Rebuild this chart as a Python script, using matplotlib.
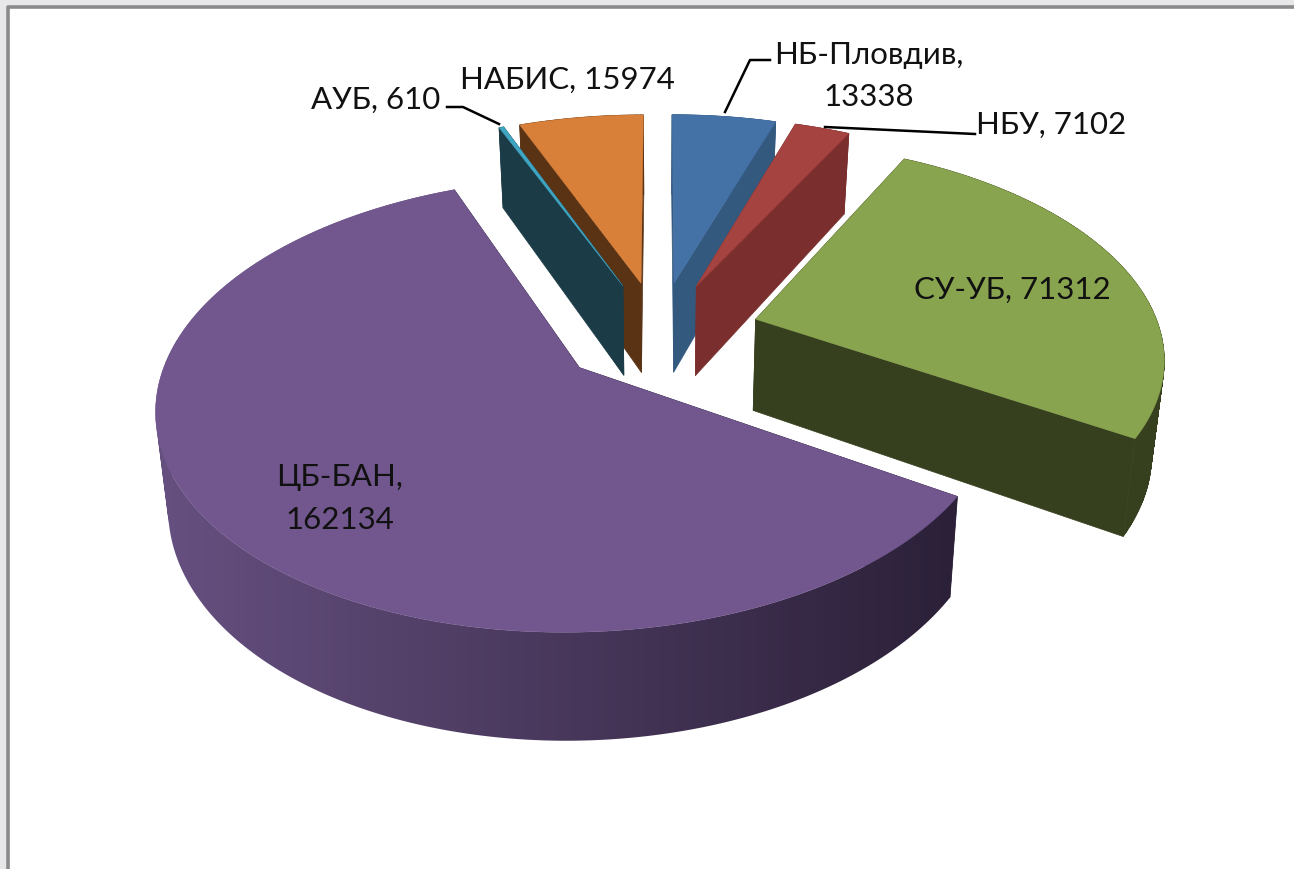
import numpy as np
import matplotlib
matplotlib.use("Agg")
import matplotlib.pyplot as plt
from matplotlib.colors import LinearSegmentedColormap
from matplotlib.path import Path
from matplotlib.patches import PathPatch

plt.rcParams['font.family'] = ['Lato', 'Noto Sans', 'DejaVu Sans']

# Data, clockwise from 12 o'clock
labels = ["НБ-Пловдив", "НБУ", "СУ-УБ", "ЦБ-БАН", "АУБ", "НАБИС"]
values = [13338, 7102, 71312, 162134, 610, 15974]

top_colors = ["#4471a6", "#a54341", "#89a44f", "#71578e", "#3fa5c2", "#d8803a"]
wall_colors = ["#34597f", "#7a2f2e", "#37401e", "#2b2038", "#1b3c47", "#5a3315"]

# Projection of the exploded disc onto the picture, in pixels
CX, CY = 659, 334
RX, RY = 405, 210
PERSP = 0.16
EXPLODE = 0.25
DEPTH = 92
BOTTOM_SHRINK = 0.975


def project(X, Y):
    s = 1 / (1 + PERSP * Y)
    return CX + RX * X * s, CY - RY * Y * s, s


def top_and_bottom(X, Y):
    x, y, s = project(X, Y)
    xb = CX + (x - CX) * BOTTOM_SHRINK
    yb = y + DEPTH * s ** 0.8
    return np.column_stack([x, y]), np.column_stack([xb, yb])


def quad(ax, t0, t1, b0, b1, color):
    pts = np.array([t0, t1, b1, b0])
    ax.fill(pts[:, 0], pts[:, 1], color=color, lw=0.5, zorder=2)


def wall_visible(apex, outer, mid):
    e = outer - apex
    m = mid - apex
    side_in = e[0] * m[1] - e[1] * m[0]
    return e[0] * side_in < 0


def swept_path(arc_t, arc_b):
    # union of the little quads under the arc, all wound the same way
    verts, codes = [], []
    for i in range(len(arc_t) - 1):
        pts = np.array([arc_t[i], arc_t[i + 1], arc_b[i + 1], arc_b[i]])
        x, y = pts[:, 0], pts[:, 1]
        area = np.sum(x * np.roll(y, -1) - np.roll(x, -1) * y)
        if area < 0:
            pts = pts[::-1]
        verts.extend(pts.tolist() + [pts[0].tolist()])
        codes.extend([Path.MOVETO, Path.LINETO, Path.LINETO, Path.LINETO, Path.CLOSEPOLY])
    return Path(verts, codes)


def shaded_wall(ax, path, wall_color):
    # left to right gradient, clipped to the curved wall
    cmap = LinearSegmentedColormap.from_list("wall", ["#665080", wall_color])
    grad = np.linspace(0, 1, 256).reshape(1, -1)
    im = ax.imshow(grad, cmap=cmap, extent=[155, 960, 870, 0], aspect="auto", zorder=2)
    im.set_clip_path(path, transform=ax.transData)
    ax.set_xlim(0, 1294)
    ax.set_ylim(870, 0)


def draw_slice(ax, th0, th1, top_color, wall_color, shaded=False):
    mid = (th0 + th1) / 2
    ax0 = EXPLODE * np.sin(mid)
    ay0 = EXPLODE * np.cos(mid)
    th = np.linspace(th0, th1, max(int(np.degrees(th1 - th0)) * 2, 4))
    X = ax0 + np.sin(th)
    Y = ay0 + np.cos(th)
    arc_t, arc_b = top_and_bottom(X, Y)
    ap_t, ap_b = top_and_bottom(np.array([ax0]), np.array([ay0]))
    ap_t, ap_b = ap_t[0], ap_b[0]
    mid_pt = arc_t[len(arc_t) // 2]

    radial = [(arc_t[0], arc_b[0]), (arc_t[-1], arc_b[-1])]
    visible = []
    for o_t, o_b in radial:
        if wall_visible(ap_t, o_t, mid_pt):
            visible.append((o_t, o_b))
        else:
            quad(ax, ap_t, o_t, ap_b, o_b, wall_color)

    # curved outer wall
    path = swept_path(arc_t, arc_b)
    if shaded:
        shaded_wall(ax, path, wall_color)
    else:
        ax.add_patch(PathPatch(path, facecolor=wall_color, edgecolor=wall_color, lw=0.5, zorder=2))

    for o_t, o_b in visible:
        quad(ax, ap_t, o_t, ap_b, o_b, wall_color)

    poly = np.vstack([ap_t, arc_t])
    ax.fill(poly[:, 0], poly[:, 1], color=top_color, lw=0.3, zorder=2)


fig = plt.figure(figsize=(12.94, 8.70), dpi=100, facecolor="#e7e7e9")
ax = fig.add_axes([0, 0, 1, 1])
ax.set_xlim(0, 1294)
ax.set_ylim(870, 0)
ax.axis("off")

# chart frame
ax.fill([8, 1294, 1294, 8], [8, 8, 870, 870], color="white", zorder=0)
ax.plot([8, 8, 1294], [870, 8, 8], color="#8a8a8a", lw=2.6, zorder=1)

edges = np.concatenate([[0], np.cumsum(values)]) / np.sum(values) * 2 * np.pi

# back slices first
for i in [5, 4, 0, 1, 2, 3]:
    draw_slice(ax, edges[i], edges[i + 1], top_colors[i], wall_colors[i], shaded=(i == 3))

# leader lines
ax.plot([447, 463, 499], [108, 108, 125], color="black", lw=1.8, zorder=3)
ax.plot([770, 750, 725], [61, 61, 113], color="black", lw=1.8, zorder=3)
ax.plot([825, 975], [128, 135], color="black", lw=1.8, zorder=3)

FS = 22.5
TXT = "#111111"
text_kw = dict(fontsize=FS, color=TXT, ha="center", va="center", zorder=4)
ax.text(376, 100, f"{labels[4]}, {values[4]}", **text_kw)
ax.text(567, 80, f"{labels[5]}, {values[5]}", **text_kw)
ax.text(869, 55, f"{labels[0]},", **text_kw)
ax.text(869, 97, f"{values[0]}", **text_kw)
ax.text(1051, 125, f"{labels[1]}, {values[1]}", **text_kw)
ax.text(1012, 290, f"{labels[2]}, {values[2]}", **text_kw)
ax.text(340, 477, f"{labels[3]},", **text_kw)
ax.text(340, 520, f"{values[3]}", **text_kw)

fig.savefig("out.png", dpi=100, facecolor=fig.get_facecolor())
